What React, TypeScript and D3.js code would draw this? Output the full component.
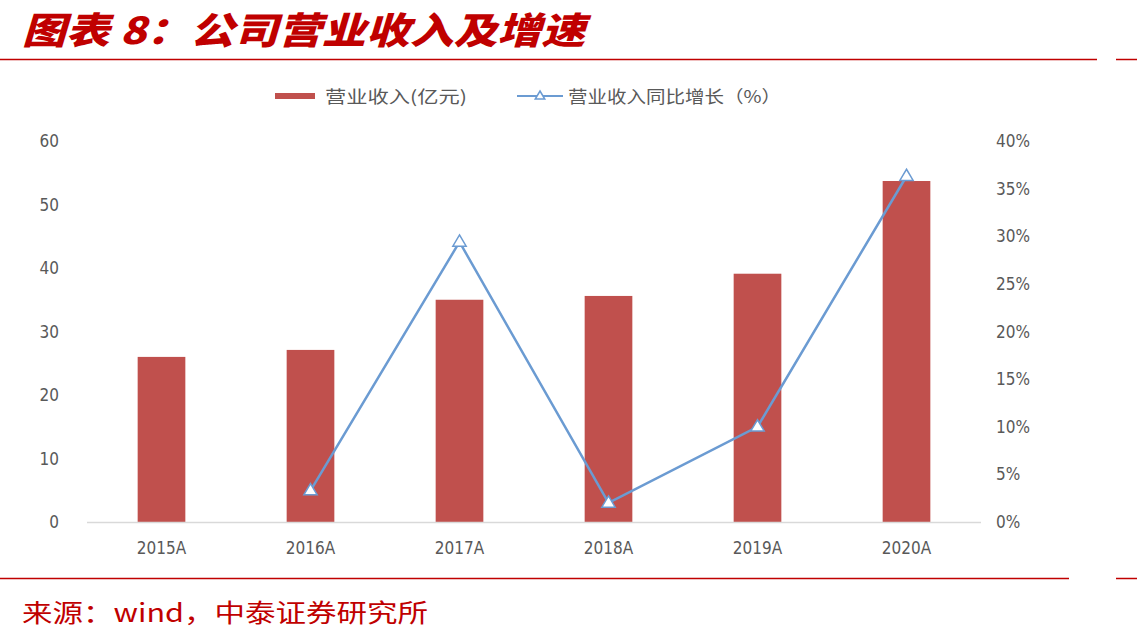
import React from "react";
import * as d3 from "d3";

const categories = ["2015A", "2016A", "2017A", "2018A", "2019A", "2020A"];
const revenue = [26.0, 27.1, 35.0, 35.6, 39.1, 53.7];
const growth: (number | null)[] = [null, 3.3, 29.4, 2.0, 10.0, 36.3];
const leftTicks = [0, 10, 20, 30, 40, 50, 60];
const rightTicks = [0, 5, 10, 15, 20, 25, 30, 35, 40];
const legendBar = "营业收入(亿元)";
const legendLine = "营业收入同比增长（%）";
const titleText = "图表 8：公司营业收入及增速";
const sourceText = "来源：wind，中泰证券研究所";

const W = 1137;
const H = 644;
const plot = { left: 87, right: 981, top: 141, bottom: 522 };

const RED = "#c0504d";
const BLUE = "#6b9bd2";
const TXT = "#595959";
const BRAND = "#c00000";
const FONT = "'Liberation Sans Narrow', 'DejaVu Sans Condensed', 'Liberation Sans', sans-serif";
const CJK = "'Noto Sans CJK SC', sans-serif";

export default function App() {
  const x = d3.scaleBand<string>().domain(categories).range([plot.left, plot.right]).paddingInner(0.68).paddingOuter(0.34);
  const yL = d3.scaleLinear().domain([0, 60]).range([plot.bottom, plot.top]);
  const yR = d3.scaleLinear().domain([0, 40]).range([plot.bottom, plot.top]);
  const cx = (c: string) => (x(c) as number) + x.bandwidth() / 2;

  const pts = categories
    .map((c, i) => ({ c, v: growth[i] }))
    .filter((d) => d.v !== null) as { c: string; v: number }[];
  const line = d3
    .line<{ c: string; v: number }>()
    .x((d) => cx(d.c))
    .y((d) => yR(d.v));

  const tri = (px: number, py: number, s = 7) =>
    `M${px},${py - s} L${px + s * 0.95},${py + s * 0.6} L${px - s * 0.95},${py + s * 0.6} Z`;

  return (
    <svg width={W} height={H} style={{ position: "absolute", left: 0, top: 0, background: "#fff" }}>
      <rect x={0} y={0} width={W} height={H} fill="#fff" />
      {/* title */}
      <text
        x={22}
        y={44}
        fill={BRAND}
        fontFamily={CJK}
        fontWeight={900}
        fontStyle="italic"
        fontSize={37}
        textLength={563}
        lengthAdjust="spacingAndGlyphs"
      >
        {titleText}
      </text>
      <line x1={0} x2={1097} y1={59.5} y2={59.5} stroke={BRAND} strokeWidth={1.5} />
      <line x1={1116} x2={W} y1={59.5} y2={59.5} stroke={BRAND} strokeWidth={1.5} />

      {/* legend */}
      <rect x={275} y={93} width={40} height={6} fill={RED} />
      <text x={325} y={103} fill={TXT} fontFamily={CJK} fontSize={17} textLength={142} lengthAdjust="spacingAndGlyphs">
        {legendBar}
      </text>
      <line x1={517} x2={563} y1={96} y2={96} stroke={BLUE} strokeWidth={2} />
      <path d={tri(540, 96, 5)} fill="#fff" stroke={BLUE} strokeWidth={1.5} />
      <text x={568} y={103} fill={TXT} fontFamily={CJK} fontSize={17} textLength={213} lengthAdjust="spacingAndGlyphs">
        {legendLine}
      </text>

      {/* left axis labels */}
      {leftTicks.map((t) => (
        <text key={"l" + t} x={59} y={yL(t) + 6} textAnchor="end" fill={TXT} fontFamily={FONT} fontSize={17}>
          {t}
        </text>
      ))}
      {/* right axis labels */}
      {rightTicks.map((t) => (
        <text key={"r" + t} x={996} y={yR(t) + 6} textAnchor="start" fill={TXT} fontFamily={FONT} fontSize={17}>
          {t + "%"}
        </text>
      ))}

      {/* bars */}
      {categories.map((c, i) => (
        <rect key={c} x={x(c)} y={yL(revenue[i])} width={x.bandwidth()} height={yL(0) - yL(revenue[i])} fill={RED} />
      ))}

      {/* baseline */}
      <line x1={plot.left} x2={plot.right} y1={plot.bottom + 0.5} y2={plot.bottom + 0.5} stroke="#d9d9d9" strokeWidth={1.5} />

      {/* x labels */}
      {categories.map((c) => (
        <text key={"x" + c} x={cx(c)} y={554} textAnchor="middle" fill={TXT} fontFamily={FONT} fontSize={17}>
          {c}
        </text>
      ))}

      {/* line */}
      <path d={line(pts) as string} fill="none" stroke={BLUE} strokeWidth={2.5} />
      {pts.map((d) => (
        <path key={"m" + d.c} d={tri(cx(d.c), yR(d.v))} fill="#fff" stroke={BLUE} strokeWidth={1.5} />
      ))}

      {/* footer */}
      <line x1={0} x2={1069} y1={578.5} y2={578.5} stroke={BRAND} strokeWidth={1.5} />
      <line x1={1116} x2={W} y1={578.5} y2={578.5} stroke={BRAND} strokeWidth={1.5} />
      <text x={22} y={622} fill={BRAND} fontFamily={CJK} fontSize={25} textLength={406} lengthAdjust="spacingAndGlyphs">
        {sourceText}
      </text>
    </svg>
  );
}
